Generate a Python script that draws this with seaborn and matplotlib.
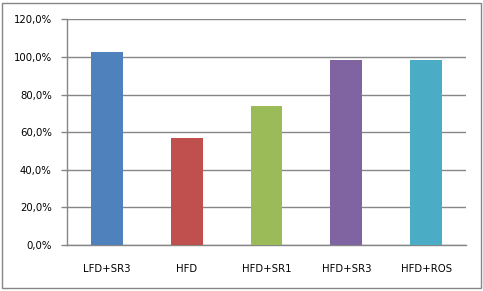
import matplotlib
matplotlib.use("Agg")
import matplotlib.pyplot as plt
import seaborn as sns
import pandas as pd
from matplotlib.ticker import FuncFormatter, MultipleLocator
from matplotlib.patches import Rectangle

categories = ["LFD+SR3", "HFD", "HFD+SR1", "HFD+SR3", "HFD+ROS"]
values = [102.8, 57.0, 74.0, 98.4, 98.4]
colors = ["#4F81BD", "#C0504D", "#9BBB59", "#8064A2", "#4BACC6"]

sns.set_style("white")
plt.rcParams["font.family"] = ["DejaVu Sans"]

W, H = 483, 291
fig = plt.figure(figsize=(W / 100, H / 100), dpi=100)
ax = fig.add_axes([67 / W, (H - 245) / H, (466 - 67) / W, (245 - 19.4) / H])

df = pd.DataFrame({"cat": categories, "val": values})
sns.barplot(data=df, x="cat", y="val", hue="cat", palette=colors, width=0.4,
            legend=False, ax=ax, saturation=1, zorder=3, linewidth=0)

grey = "#868686"
ax.set_ylim(0, 120)
ax.set_xlim(-0.5, len(categories) - 0.5)
ax.yaxis.set_major_locator(MultipleLocator(20))
ax.yaxis.set_major_formatter(FuncFormatter(lambda v, p: f"{v:.1f}%".replace(".", ",")))
ax.grid(axis="y", color=grey, linewidth=1, zorder=0)
ax.set_axisbelow(True)
ax.set_xlabel("")
ax.set_ylabel("")
for s in ["top", "right"]:
    ax.spines[s].set_visible(False)
for s in ["left", "bottom"]:
    ax.spines[s].set_color(grey)
    ax.spines[s].set_linewidth(1)

ax.set_xticks(range(len(categories)))
ax.set_xticklabels(categories)
ax.set_xticks([i - 0.5 for i in range(len(categories) + 1)], minor=True)
ax.tick_params(axis="x", which="major", length=0, pad=14, labelsize=7.3, labelcolor="black")
ax.tick_params(axis="x", which="minor", length=4, color=grey, width=1, direction="out")
ax.tick_params(axis="y", which="major", length=4, color=grey, width=1, direction="out",
               pad=7, labelsize=7.3, labelcolor="black")
ax.tick_params(left=True, bottom=True)

fig.patches.append(Rectangle((2 / W, 3 / H), (481 - 2) / W, (288 - 3) / H,
                             transform=fig.transFigure, fill=False,
                             edgecolor=grey, linewidth=1))

fig.savefig("out.png", dpi=100)
